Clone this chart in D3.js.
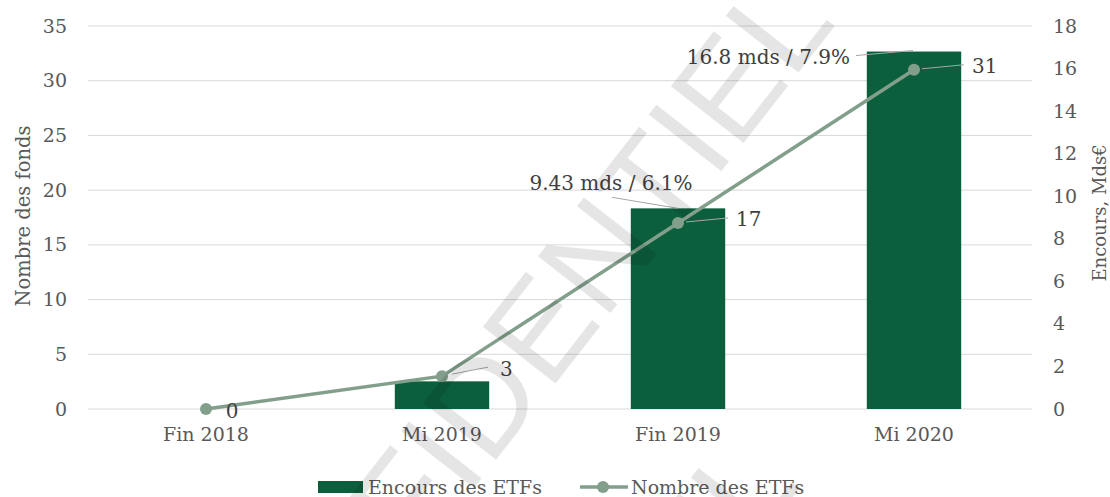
<!DOCTYPE html>
<html>
<head>
<meta charset="utf-8">
<script src="https://cdn.jsdelivr.net/npm/d3@7/dist/d3.min.js"></script>
<style>
  html, body { margin: 0; padding: 0; background: #fff; }
  svg { display: block; }
  text { font-family: "DejaVu Serif", "Liberation Serif", serif; }
</style>
</head>
<body>
<svg id="chart" width="1110" height="497"></svg>
<script>
// ---- data ----
const categories = ["Fin 2018", "Mi 2019", "Fin 2019", "Mi 2020"];
const encours = [0, 1.3, 9.43, 16.8];          // Mds€ (right axis, bars)
const nombre = [0, 3, 17, 31];                  // number of ETFs (left axis, line)
const barLabels = [null, null, "9.43 mds / 6.1%", "16.8 mds / 7.9%"];
const leftTicks = [0, 5, 10, 15, 20, 25, 30, 35];
const rightTicks = [0, 2, 4, 6, 8, 10, 12, 14, 16, 18];
const legendLabels = ["Encours des ETFs", "Nombre des ETFs"];
const leftTitle = "Nombre des fonds";
const rightTitle = "Encours, Mds€";
const watermark = "CONFIDENTIEL";

(function () {
// ---- layout ----
const svg = d3.select("#chart");
const pL = 88, pR = 1032, pT = 26, pB = 409;
const barColor = "#0b5f3c", lineColor = "#829f8c";
const tickColor = "#595959", labelColor = "#404040";

const x = d3.scaleBand().domain(categories).range([pL, pR]).padding(0);
const yL = d3.scaleLinear().domain([0, 35]).range([pB, pT]);
const yR = d3.scaleLinear().domain([0, 18]).range([pB, pT]);
const barW = x.bandwidth() * 0.4;
const cx = d => x(d) + x.bandwidth() / 2;

// gridlines
svg.append("g").selectAll("line").data(leftTicks).join("line")
  .attr("x1", pL).attr("x2", pR)
  .attr("y1", d => yL(d)).attr("y2", d => yL(d))
  .attr("stroke", "#d9d9d9").attr("stroke-width", 1);

// axes
const axL = svg.append("g").attr("transform", `translate(${pL},0)`)
  .call(d3.axisLeft(yL).tickValues(leftTicks).tickSize(0).tickPadding(21));
const axR = svg.append("g").attr("transform", `translate(${pR},0)`)
  .call(d3.axisRight(yR).tickValues(rightTicks).tickSize(0).tickPadding(21));
const axB = svg.append("g").attr("transform", `translate(0,${pB})`)
  .call(d3.axisBottom(x).tickSize(0).tickPadding(19));
[axL, axR, axB].forEach(a => {
  a.select(".domain").remove();
  a.selectAll("text").attr("fill", tickColor).style("font-size", "19px")
    .style("font-family", '"DejaVu Serif", serif');
});

// bars
svg.append("g").selectAll("rect").data(categories).join("rect")
  .attr("x", d => cx(d) - barW / 2)
  .attr("width", barW)
  .attr("y", (d, i) => yR(encours[i]))
  .attr("height", (d, i) => pB - yR(encours[i]))
  .attr("fill", barColor);

// line
const pts = categories.map((c, i) => [cx(c), yL(nombre[i])]);
svg.append("path").attr("d", d3.line()(pts))
  .attr("fill", "none").attr("stroke", lineColor).attr("stroke-width", 3.5);
svg.append("g").selectAll("circle").data(pts).join("circle")
  .attr("cx", d => d[0]).attr("cy", d => d[1]).attr("r", 6)
  .attr("fill", lineColor);

// line value labels with leader lines
const lineLab = svg.append("g");
categories.forEach((c, i) => {
  const px = cx(c), py = yL(nombre[i]);
  if (i === 0) {
    lineLab.append("text").attr("x", px + 26).attr("y", py + 2)
      .attr("text-anchor", "middle").attr("dominant-baseline", "central")
      .attr("fill", labelColor).style("font-size", "20px").text(nombre[i]);
    return;
  }
  const off = i === 1 ? [[10, -2], [46, -9], [58, -7]] : [[8, -1], [50, -5], [58, -4]];
  lineLab.append("path")
    .attr("d", d3.line()([[px + off[0][0], py + off[0][1]], [px + off[1][0], py + off[1][1]]]))
    .attr("stroke", "#a6a6a6").attr("stroke-width", 1).attr("fill", "none");
  lineLab.append("text").attr("x", px + off[2][0]).attr("y", py + off[2][1])
    .attr("dominant-baseline", "central")
    .attr("fill", labelColor).style("font-size", "20px").text(nombre[i]);
});

// bar value labels with leader lines
categories.forEach((c, i) => {
  if (!barLabels[i]) return;
  const px = cx(c), py = yR(encours[i]);
  if (i === 2) {
    lineLab.append("path")
      .attr("d", d3.line()([[px - 66, py - 11], [px, py]]))
      .attr("stroke", "#a6a6a6").attr("stroke-width", 1).attr("fill", "none");
    lineLab.append("text").attr("x", px - 67).attr("y", py - 25)
      .attr("text-anchor", "middle").attr("dominant-baseline", "central")
      .attr("fill", labelColor).style("font-size", "20px").text(barLabels[i]);
  } else {
    lineLab.append("path")
      .attr("d", d3.line()([[px - 58, py + 4], [px - 1, py - 1]]))
      .attr("stroke", "#a6a6a6").attr("stroke-width", 1).attr("fill", "none");
    lineLab.append("text").attr("x", px - 64).attr("y", py + 5)
      .attr("text-anchor", "end").attr("dominant-baseline", "central")
      .attr("fill", labelColor).style("font-size", "20px").text(barLabels[i]);
  }
});

// axis titles
svg.append("text").attr("transform", `translate(23,216) rotate(-90)`)
  .attr("text-anchor", "middle").attr("dominant-baseline", "central")
  .attr("fill", tickColor).style("font-size", "19.5px").text(leftTitle);
svg.append("text").attr("transform", `translate(1099,213) rotate(-90)`)
  .attr("text-anchor", "middle").attr("dominant-baseline", "central")
  .attr("fill", tickColor).style("font-size", "18px").text(rightTitle);

// legend
const lg = svg.append("g");
lg.append("rect").attr("x", 318).attr("y", 481).attr("width", 45).attr("height", 12).attr("fill", barColor);
lg.append("text").attr("x", 368).attr("y", 487).attr("dominant-baseline", "central")
  .attr("fill", tickColor).style("font-size", "19px").text(legendLabels[0]);
lg.append("line").attr("x1", 580).attr("x2", 628).attr("y1", 487).attr("y2", 487)
  .attr("stroke", lineColor).attr("stroke-width", 3.5);
lg.append("circle").attr("cx", 603).attr("cy", 487).attr("r", 6).attr("fill", lineColor);
lg.append("text").attr("x", 631).attr("y", 487).attr("dominant-baseline", "central")
  .attr("fill", tickColor).style("font-size", "19px").text(legendLabels[1]);

// watermark
const wm = svg.append("g").style("pointer-events", "none");
[[497, 380], [462, 842]].forEach(([wx, wy]) => {
  wm.append("text").attr("transform", `translate(${wx},${wy}) rotate(-52)`)
    .attr("text-anchor", "middle").attr("dy", "0.36em")
    .style("font-family", '"Liberation Sans", Arial, sans-serif')
    .style("font-size", "134px")
    .attr("fill", "#000").attr("fill-opacity", 0.1)
    .text(watermark);
});
})();
</script>
</body>
</html>
